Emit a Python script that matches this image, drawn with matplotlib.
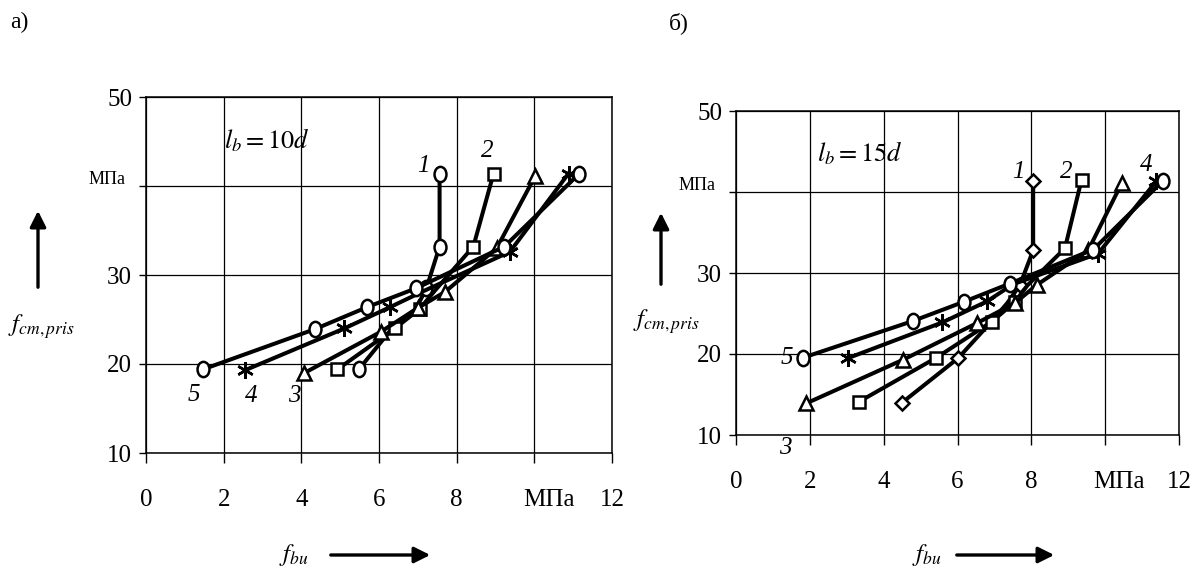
import matplotlib
matplotlib.use('Agg')
import matplotlib.pyplot as plt
from matplotlib.patches import FancyArrowPatch
from matplotlib.path import Path
from matplotlib.transforms import Affine2D

plt.rcParams['font.family'] = ['Liberation Serif', 'DejaVu Serif']
plt.rcParams['mathtext.fontset'] = 'stix'

W, H = 1196, 571

# ---------------- data: panel a) l_b = 10d ----------------
a_curve_names = ['1', '2', '3', '4', '5']
a1_x = [5.48, 6.30, 6.95, 7.22, 7.56, 7.56]
a1_y = [19.4, 23.8, 26.2, 28.5, 33.2, 41.4]
a2_x = [4.93, 6.41, 7.05, 7.45, 8.43, 8.95]
a2_y = [19.4, 24.0, 26.2, 28.3, 33.2, 41.4]
a3_x = [4.08, 6.04, 7.00, 7.70, 9.03, 10.02]
a3_y = [19.0, 23.6, 26.3, 28.1, 33.0, 41.1]
a4_x = [2.55, 5.11, 6.29, 7.15, 9.37, 10.88]
a4_y = [19.3, 24.0, 26.4, 28.2, 32.6, 41.4]
a5_x = [1.47, 4.34, 5.70, 6.95, 9.23, 11.16]
a5_y = [19.4, 23.9, 26.4, 28.5, 33.2, 41.4]

# ---------------- data: panel б) l_b = 15d ----------------
b1_x = [4.50, 6.02, 6.90, 7.35, 7.69, 8.05, 8.05]
b1_y = [14.0, 19.5, 23.9, 26.3, 28.5, 32.8, 41.3]
b2_x = [3.33, 5.43, 6.93, 7.55, 7.90, 8.91, 9.36]
b2_y = [14.1, 19.55, 24.0, 26.4, 28.5, 33.05, 41.5]
b3_x = [1.90, 4.53, 6.52, 7.56, 8.14, 9.54, 10.45]
b3_y = [13.9, 19.3, 23.8, 26.3, 28.5, 32.8, 41.1]
b4_x = [3.04, 5.59, 6.80, 7.50, 9.81, 11.38]
b4_y = [19.5, 23.9, 26.5, 28.6, 32.4, 41.3]
b5_x = [1.82, 4.79, 6.18, 7.42, 9.68, 11.57]
b5_y = [19.55, 24.07, 26.46, 28.7, 32.9, 41.4]

x_ticks = [0, 2, 4, 6, 8, 10, 12]
x_tick_labels = ['0', '2', '4', '6', '8', '', '12']
y_ticks = [10, 20, 30, 40, 50]
y_tick_labels = ['10', '20', '30', '', '50']
unit_label = 'МПа'

fig = plt.figure(figsize=(W / 100, H / 100), dpi=100)

# slightly tall ellipse marker, like the printed circles
ellipse = Path.unit_circle().transformed(Affine2D().scale(0.78, 1.0))


def px_axes(x0, y0, x1, y1):
    return fig.add_axes([x0 / W, 1 - y1 / H, (x1 - x0) / W, (y1 - y0) / H])


def style_axes(ax):
    ax.set_xlim(0, 12)
    ax.set_ylim(10, 50)
    ax.set_xticks(x_ticks)
    ax.set_xticklabels(x_tick_labels)
    ax.set_yticks(y_ticks)
    ax.set_yticklabels(y_tick_labels)
    ax.grid(True, color='black', lw=0.9)
    ax.set_axisbelow(True)
    for s in ax.spines.values():
        s.set_linewidth(1.1)
        s.set_color('black')
    ax.tick_params(axis='x', direction='out', length=7, width=1, labelsize=18, pad=19)
    ax.tick_params(axis='y', direction='out', length=5, width=1, labelsize=18, pad=5)
    ax.annotate(unit_label, xy=(10.37, 0), xycoords=('data', 'axes fraction'),
                xytext=(0, -26), textcoords='offset points', ha='center', va='top',
                fontsize=18)
    ax.annotate(unit_label, xy=(0, 40), xycoords=('axes fraction', 'data'),
                xytext=(-15, 5), textcoords='offset points', ha='right', va='center',
                fontsize=13)


line_kw = dict(color='black', lw=2.9, mfc='white', mec='black', mew=1.8, clip_on=False, zorder=3)
ast = (6, 2, 0)
circ = dict(marker=ellipse, ms=11)
sq = dict(marker='s', ms=8.5)
tri = dict(marker='^', ms=10.5)
star = dict(marker=ast, ms=12)
dia = dict(marker='D', ms=7)

# ---------------- panel a ----------------
axa = px_axes(146, 97, 612, 453)
style_axes(axa)
axa.plot(a1_x, a1_y, markevery=[0, 3, 4, 5], **circ, **line_kw)
axa.plot(a2_x, a2_y, markevery=[0, 1, 2, 4, 5], **sq, **line_kw)
axa.plot(a3_x, a3_y, **tri, **line_kw)
axa.plot(a4_x, a4_y, markevery=[0, 1, 2, 4, 5], **star, **line_kw)
axa.plot(a5_x, a5_y, **circ, **line_kw)
axa.text(2.0, 45.2, r'$l_b = 10d$', fontsize=19, va='center', ha='left')
lab_kw = dict(fontsize=18, style='italic', ha='center', va='center')
axa.text(7.13, 42.2, a_curve_names[0], **lab_kw)
axa.text(8.79, 43.9, a_curve_names[1], **lab_kw)
axa.text(3.83, 16.4, a_curve_names[2], **lab_kw)
axa.text(2.70, 16.4, a_curve_names[3], **lab_kw)
axa.text(1.23, 16.5, a_curve_names[4], **lab_kw)

# ---------------- panel б ----------------
axb = px_axes(736, 111, 1179, 435)
style_axes(axb)
axb.plot(b1_x, b1_y, markevery=[0, 1, 4, 5, 6], **dia, **line_kw)
axb.plot(b2_x, b2_y, markevery=[0, 1, 2, 3, 5, 6], **sq, **line_kw)
axb.plot(b3_x, b3_y, **tri, **line_kw)
axb.plot(b4_x, b4_y, markevery=[0, 1, 2, 4, 5], **star, **line_kw)
axb.plot(b5_x, b5_y, **circ, **line_kw)
axb.text(2.2, 44.8, r'$l_b = 15d$', fontsize=19, va='center', ha='left')
axb.text(7.65, 42.5, a_curve_names[0], **lab_kw)
axb.text(8.94, 42.5, a_curve_names[1], **lab_kw)
axb.text(1.33, 8.4, a_curve_names[2], clip_on=False, **lab_kw)
axb.text(11.12, 43.3, a_curve_names[3], **lab_kw)
axb.text(1.55, 19.5, a_curve_names[4], fontsize=18, style='italic', ha='right', va='center')


# ---------------- figure-level labels and arrows ----------------
def fpt(x, y):
    return (x / W, 1 - y / H)


fig.text(*fpt(19, 22), 'а)', fontsize=17, ha='center', va='center')
fig.text(*fpt(679, 23), 'б)', fontsize=17, ha='center', va='center')

arrow_kw = dict(arrowstyle='-|>', mutation_scale=24, lw=2.4, color='black',
                transform=fig.transFigure)
fig.add_artist(FancyArrowPatch(fpt(38, 290), fpt(38, 208), **arrow_kw))
fig.add_artist(FancyArrowPatch(fpt(661, 287), fpt(661, 210), **arrow_kw))
fig.text(*fpt(41, 327), r'$f_{cm,pris}$', fontsize=18, ha='center', va='center')
fig.text(*fpt(666, 322), r'$f_{cm,pris}$', fontsize=18, ha='center', va='center')
fig.add_artist(FancyArrowPatch(fpt(328, 555), fpt(433, 555), **arrow_kw))
fig.add_artist(FancyArrowPatch(fpt(954, 555), fpt(1057, 555), **arrow_kw))
fig.text(*fpt(294, 555), r'$f_{bu}$', fontsize=18, ha='center', va='center')
fig.text(*fpt(927, 555), r'$f_{bu}$', fontsize=18, ha='center', va='center')

fig.savefig('out.png', dpi=100)
